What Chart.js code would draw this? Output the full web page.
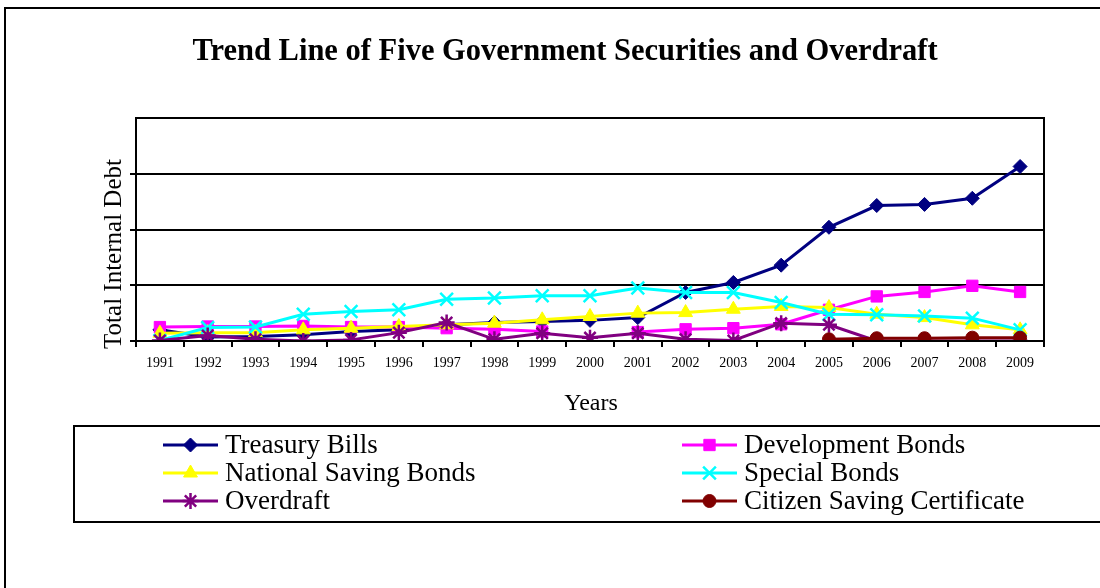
<!DOCTYPE html>
<html>
<head>
<meta charset="utf-8">
<title>Trend Line of Five Government Securities and Overdraft</title>
<script src="https://cdn.jsdelivr.net/npm/chart.js@4/dist/chart.umd.min.js"></script>
<style>
  html, body { margin: 0; padding: 0; background: #fff; overflow: hidden; }
  #wrap { width: 1100px; height: 588px; position: relative; }
</style>
</head>
<body>
<div id="wrap"><canvas id="chart" width="1100" height="588"></canvas></div>
<script>
// Years on the horizontal axis
const years = ['1991','1992','1993','1994','1995','1996','1997','1998','1999','2000',
               '2001','2002','2003','2004','2005','2006','2007','2008','2009'];

// Outstanding amounts per instrument (one gridline step = 100)
const treasuryBills      = [20, 7, 8, 11, 17, 20, 29, 33, 35, 37, 42, 87, 105, 136, 204, 243, 245, 256, 313];
const developmentBonds   = [25, 26, 26, 27, 25, 25, 23, 21, 17, null, 16, 21, 23, 30, 56, 80, 88, 99, 88];
const nationalSaving     = [14, 15, 15, 20, 23, 26, 29, 32, 38, 44, 50, 51, 57, 62, 60, 48, 42, 29, 20];
const specialBonds       = [1, 24, 25, 48, 53, 56, 75, 77, 81, 81, 95, 87, 87, 69, 48, 47, 45, 41, 20];
const overdraft          = [1, 10, 3, 0, 2, 15, 33, 3, 14, 6, 14, 3, 1, 32, 29, 0, 0, 0, 0];
const citizenSaving      = [null, null, null, null, null, null, null, null, null, null,
                            null, null, null, null, 3, 5, 5, 6, 6];

// Hidden value axis: range and gridline step
const yMin = 0, yMax = 400, yStep = 100;

const chartTitle = 'Trend Line of Five Government Securities and Overdraft';
const xTitle = 'Years';
const yTitle = 'Total Internal Debt';

const SERIF = '"Liberation Serif", "Times New Roman", Times, serif';

function series(label, data, color, style, radius, order, opts) {
  return Object.assign({
    label, data, order,
    borderColor: color,
    backgroundColor: color,
    borderWidth: 3,
    pointStyle: style,
    pointRadius: radius,
    pointHoverRadius: radius,
    pointBackgroundColor: color,
    pointBorderColor: color,
    pointBorderWidth: 1,
    tension: 0,
    spanGaps: false,
    fill: false
  }, opts || {});
}

const datasets = [
  series('Treasury Bills', treasuryBills, '#000080', 'rectRot', 7, 6),
  series('Development Bonds', developmentBonds, '#FF00FF', 'rect', 8, 5),
  series('National Saving Bonds', nationalSaving, '#FFFF00', 'triangle', 8, 4),
  series('Special Bonds', specialBonds, '#00FFFF', 'crossRot', 9, 3, { pointBorderWidth: 2.5 }),
  series('Overdraft', overdraft, '#800080', 'star', 8, 2, { pointBorderWidth: 2.5 }),
  series('Citizen Saving Certificate', citizenSaving, '#800000', 'circle', 6.5, 1)
];

// Frame, titles and the two-column legend box
const decorations = {
  id: 'decorations',
  beforeDraw(chart) {
    const ctx = chart.ctx;
    ctx.save();
    ctx.fillStyle = '#fff';
    ctx.fillRect(0, 0, chart.width, chart.height);
    ctx.restore();
  },
  afterDraw(chart) {
    const ctx = chart.ctx;
    const a = chart.chartArea;
    ctx.save();
    ctx.strokeStyle = '#000';
    ctx.lineWidth = 2;
    // outer frame
    ctx.strokeRect(5, 8, 1200, 700);
    // plot frame
    ctx.strokeRect(a.left, a.top, a.right - a.left, a.bottom - a.top);

    ctx.fillStyle = '#000';
    ctx.textAlign = 'center';
    ctx.textBaseline = 'alphabetic';
    ctx.font = 'bold 30.5px ' + SERIF;
    ctx.fillText(chartTitle, 565, 60);

    ctx.font = '24px ' + SERIF;
    ctx.fillText(xTitle, 591, 410);

    ctx.save();
    ctx.translate(121, 254);
    ctx.rotate(-Math.PI / 2);
    ctx.font = '25px ' + SERIF;
    ctx.fillText(yTitle, 0, 0);
    ctx.restore();

    // legend
    ctx.strokeRect(74, 426, 1200, 96);
    const colX = [163, 682];
    const rowY = [445, 473, 501];
    ctx.textAlign = 'left';
    ctx.font = '27px ' + SERIF;
    chart.data.datasets.forEach((ds, i) => {
      const x0 = colX[i % 2];
      const y = rowY[Math.floor(i / 2)];
      ctx.strokeStyle = ds.borderColor;
      ctx.lineWidth = 3;
      ctx.beginPath();
      ctx.moveTo(x0, y);
      ctx.lineTo(x0 + 55, y);
      ctx.stroke();
      ctx.fillStyle = ds.pointBackgroundColor;
      ctx.strokeStyle = ds.pointBorderColor;
      ctx.lineWidth = ds.pointBorderWidth;
      Chart.helpers.drawPoint(ctx, {
        pointStyle: ds.pointStyle,
        radius: ds.pointRadius,
        borderWidth: ds.pointBorderWidth,
        rotation: 0
      }, x0 + 27.5, y);
      ctx.fillStyle = '#000';
      ctx.fillText(ds.label, x0 + 62, y + 8);
    });
    ctx.restore();
  }
};

new Chart(document.getElementById('chart'), {
  type: 'line',
  data: { labels: years, datasets },
  options: {
    responsive: false,
    animation: false,
    devicePixelRatio: 1,
    layout: { padding: { left: 136, right: 56, top: 118, bottom: 207 } },
    plugins: {
      legend: { display: false },
      title: { display: false },
      tooltip: { enabled: false }
    },
    scales: {
      x: {
        type: 'category',
        offset: true,
        grid: { offset: true, drawOnChartArea: false, drawTicks: true, tickLength: 6, color: '#000', lineWidth: 2 },
        border: { display: true, color: '#000', width: 2 },
        ticks: { color: '#000', font: { family: SERIF, size: 14 }, maxRotation: 0, autoSkip: false, padding: 8 },
        afterFit(scale) { scale.height = 40; }
      },
      y: {
        min: yMin, max: yMax,
        ticks: { display: false, stepSize: yStep },
        grid: {
          color: '#000', lineWidth: 2, drawTicks: true, tickLength: 6,
          tickColor: (c) => (c.tick && c.tick.value === yMax) ? 'rgba(0,0,0,0)' : '#000'
        },
        border: { display: true, color: '#000', width: 2 },
        afterFit(scale) { scale.width = 0; }
      }
    }
  },
  plugins: [decorations]
});
</script>
</body>
</html>
